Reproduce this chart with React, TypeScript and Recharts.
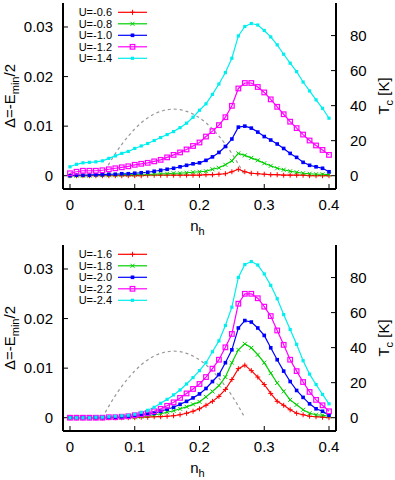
import { ComposedChart, Line, XAxis, YAxis, Legend, Label } from "recharts";

// hole doping n_h, one point every 0.01
const NH = [
  0, 0.01, 0.02, 0.03, 0.04, 0.05, 0.06, 0.07, 0.08, 0.09, 0.1, 0.11, 0.12,
  0.13, 0.14, 0.15, 0.16, 0.17, 0.18, 0.19, 0.2, 0.21, 0.22, 0.23, 0.24, 0.25,
  0.26, 0.27, 0.28, 0.29, 0.3, 0.31, 0.32, 0.33, 0.34, 0.35, 0.36, 0.37, 0.38,
  0.39, 0.4,
];

const TOP_LABELS = ["U=-0.6", "U=-0.8", "U=-1.0", "U=-1.2", "U=-1.4"];
const BOTTOM_LABELS = ["U=-1.6", "U=-1.8", "U=-2.0", "U=-2.2", "U=-2.4"];

// gap Δ for the upper panel
const GAP_U06 = [
  0, 0, 0, 0, 0, 0, 0, 0, 0, 0, 0, 0, 0.0001, 0.0001, 0.0001, 0.0001, 0.0001,
  0.0001, 0.0001, 0.0001, 0.0001, 0.0002, 0.0002, 0.0003, 0.0004, 0.0008,
  0.0013, 0.0008, 0.0005, 0.0004, 0.0003, 0.0002, 0.0002, 0.0001, 0.0001,
  0.0001, 0.0001, 0, 0, 0, 0,
];
const GAP_U08 = [
  0, 0, 0, 0, 0.0001, 0.0001, 0.0001, 0.0001, 0.0002, 0.0002, 0.0002, 0.0003,
  0.0003, 0.0003, 0.0004, 0.0004, 0.0005, 0.0005, 0.0006, 0.0007, 0.0008,
  0.0009, 0.0013, 0.0016, 0.0022, 0.003, 0.0045, 0.0041, 0.0036, 0.0031,
  0.0025, 0.002, 0.0015, 0.0012, 0.0009, 0.0007, 0.0005, 0.0004, 0.0003,
  0.0003, 0.0002,
];
const GAP_U10 = [
  0, 0.0001, 0.0001, 0.0001, 0.0002, 0.0002, 0.0003, 0.0003, 0.0004, 0.0004,
  0.0005, 0.0006, 0.0007, 0.0009, 0.0011, 0.0013, 0.0015, 0.0018, 0.0021,
  0.0024, 0.0026, 0.0031, 0.0038, 0.0047, 0.0059, 0.0074, 0.0098, 0.01,
  0.0096, 0.0088, 0.0079, 0.0072, 0.0064, 0.0055, 0.0045, 0.0037, 0.0027,
  0.0021, 0.0018, 0.0015, 0.0008,
];
const GAP_U12 = [
  0.0005, 0.0008, 0.001, 0.001, 0.001, 0.0011, 0.0013, 0.0015, 0.0017, 0.0019,
  0.0022, 0.0024, 0.0026, 0.0029, 0.0032, 0.0037, 0.0042, 0.0047, 0.0053,
  0.006, 0.0067, 0.0079, 0.009, 0.0102, 0.0118, 0.0141, 0.0176, 0.0187,
  0.0187, 0.0179, 0.0168, 0.0154, 0.0139, 0.0124, 0.0109, 0.0096, 0.0083,
  0.0071, 0.0061, 0.0052, 0.0042,
];
const GAP_U14 = [
  0.0018, 0.0023, 0.0026, 0.0027, 0.0028, 0.003, 0.0035, 0.004, 0.0045,
  0.0049, 0.0055, 0.006, 0.0065, 0.0071, 0.0077, 0.0083, 0.0089, 0.0097,
  0.0106, 0.0118, 0.0132, 0.0145, 0.0164, 0.0185, 0.0208, 0.0237, 0.0282,
  0.0301, 0.0307, 0.0304, 0.0293, 0.028, 0.0264, 0.0245, 0.0227, 0.021,
  0.0189, 0.0171, 0.0153, 0.0136, 0.0116,
];

// gap Δ for the lower panel
const GAP_U16 = [
  0, 0, 0, 0, 0, 0, 0, 0, 0, 0, 0, 0.0001, 0.0001, 0.0002, 0.0002, 0.0003,
  0.0004, 0.0006, 0.0009, 0.0013, 0.0018, 0.0025, 0.0033, 0.0043, 0.0057,
  0.0077, 0.0099, 0.0106, 0.0095, 0.0082, 0.0067, 0.0049, 0.0033, 0.0025,
  0.0016, 0.0009, 0.0006, 0.0003, 0.0002, 0.0001, 0,
];
const GAP_U18 = [
  0, 0, 0, 0, 0, 0, 0, 0, 0, 0.0001, 0.0001, 0.0002, 0.0004, 0.0006, 0.0008,
  0.0011, 0.0014, 0.0018, 0.0022, 0.0027, 0.0032, 0.0042, 0.0053, 0.0065,
  0.0082, 0.0111, 0.0137, 0.0149, 0.0141, 0.0127, 0.0111, 0.009, 0.007,
  0.0053, 0.0036, 0.0026, 0.0016, 0.0009, 0.0006, 0.0005, 0.0003,
];
const GAP_U20 = [
  0, 0, 0, 0, 0, 0, 0, 0.0001, 0.0001, 0.0002, 0.0003, 0.0005, 0.0007, 0.0009,
  0.0013, 0.0017, 0.0021, 0.0027, 0.0033, 0.004, 0.0048, 0.0059, 0.0073,
  0.0087, 0.0111, 0.0137, 0.0181, 0.0196, 0.0193, 0.0181, 0.0166, 0.0141,
  0.0117, 0.0094, 0.0073, 0.0055, 0.0041, 0.0028, 0.0018, 0.0013, 0.0005,
];
const GAP_U22 = [
  0, 0, 0, 0, 0, 0, 0.0001, 0.0001, 0.0002, 0.0003, 0.0005, 0.0007, 0.0009,
  0.0013, 0.0018, 0.0024, 0.0031, 0.004, 0.0049, 0.0058, 0.0068, 0.0082,
  0.0099, 0.0117, 0.0142, 0.0169, 0.023, 0.025, 0.025, 0.0241, 0.0224, 0.0205,
  0.0176, 0.0147, 0.0117, 0.0094, 0.0072, 0.0052, 0.0036, 0.0025, 0.0013,
];
const GAP_U24 = [
  0, 0, 0, 0, 0.0001, 0.0001, 0.0002, 0.0003, 0.0004, 0.0005, 0.0007, 0.0011,
  0.0015, 0.0021, 0.0029, 0.0037, 0.0046, 0.0056, 0.0068, 0.0081, 0.0095,
  0.0111, 0.0133, 0.0155, 0.0186, 0.0223, 0.0283, 0.0309, 0.0315, 0.0308,
  0.029, 0.0267, 0.024, 0.0208, 0.0178, 0.0148, 0.0115, 0.0088, 0.0067,
  0.0047, 0.0028,
];

// experimental Tc dome [K], right axis
const DOME_TC = [
  null, null, null, null, null, 0, 6.6, 12.6, 17.9, 22.6, 26.7, 30.2, 33.0,
  35.2, 36.7, 37.7, 38.0, 37.7, 36.7, 35.2, 33.0, 30.2, 26.7, 22.6, 17.9, 12.6,
  6.6, 0, null, null, null, null, null, null, null, null, null, null, null,
  null, null,
];

const X_TICKS = [0, 0.1, 0.2, 0.3, 0.4];
const GAP_TICKS = [0, 0.01, 0.02, 0.03];
const TC_TICKS = [0, 20, 40, 60, 80];

const COLORS = ["#ff0000", "#00d000", "#0000ff", "#ff00ff", "#00eeee"];
const MARKERS = ["plus", "cross", "square", "open", "small"];
const FONT = "'Liberation Sans', Arial, sans-serif";

function Marker({ kind, cx, cy, color }: any) {
  if (cx == null || cy == null) return null;
  if (kind === "plus")
    return (
      <g stroke={color} strokeWidth={1}>
        <line x1={cx - 2.5} y1={cy} x2={cx + 2.5} y2={cy} />
        <line x1={cx} y1={cy - 2.5} x2={cx} y2={cy + 2.5} />
      </g>
    );
  if (kind === "cross")
    return (
      <g stroke={color} strokeWidth={1}>
        <line x1={cx - 2} y1={cy - 2} x2={cx + 2} y2={cy + 2} />
        <line x1={cx - 2} y1={cy + 2} x2={cx + 2} y2={cy - 2} />
      </g>
    );
  if (kind === "open")
    return (
      <rect x={cx - 2.3} y={cy - 2.3} width={4.6} height={4.6} fill="none" stroke={color} strokeWidth={1.2} />
    );
  const s = kind === "small" ? 3.2 : 3.6;
  return <rect x={cx - s / 2} y={cy - s / 2} width={s} height={s} fill={color} />;
}

function LegendBox({ labels }: { labels: string[] }) {
  return (
    <svg width={90} height={62} style={{ display: "block" }}>
      {labels.map((lab, i) => {
        const y = 8.3 + i * 11.5;
        return (
          <g key={lab}>
            <text x={38} y={y + 4} textAnchor="end" fontSize={11} fontFamily={FONT} fill="#000">
              {lab}
            </text>
            <line x1={44} y1={y} x2={73} y2={y} stroke={COLORS[i]} strokeWidth={1.2} />
            <Marker kind={MARKERS[i]} cx={58.5} cy={y} color={COLORS[i]} />
          </g>
        );
      })}
    </svg>
  );
}

const GapLabel = ({ viewBox }: any) => {
  const x = viewBox.x + 15;
  const y = viewBox.y + viewBox.height / 2;
  return (
    <text x={x} y={y} transform={`rotate(-90 ${x} ${y})`} textAnchor="middle" fontSize={15} fontFamily={FONT} fill="#000">
      Δ=-E<tspan dy={4} fontSize={11}>min</tspan>
      <tspan dy={-4}>/2</tspan>
    </text>
  );
};

const TcLabel = ({ viewBox }: any) => {
  const x = viewBox.x + 53;
  const y = viewBox.y + viewBox.height / 2;
  return (
    <text x={x} y={y} transform={`rotate(-90 ${x} ${y})`} textAnchor="middle" fontSize={15} fontFamily={FONT} fill="#000">
      T<tspan dy={4} fontSize={11}>c</tspan>
      <tspan dy={-4}> [K]</tspan>
    </text>
  );
};

const NhLabel = ({ viewBox }: any) => {
  const x = viewBox.x + viewBox.width / 2 - 2;
  const y = viewBox.y + 42;
  return (
    <text x={x} y={y} textAnchor="middle" fontSize={15} fontFamily={FONT} fill="#000">
      n<tspan dy={4} fontSize={11}>h</tspan>
    </text>
  );
};

const frame = { stroke: "#000", strokeWidth: 2 };
const tickLine = { stroke: "#000", strokeWidth: 1 };
const tickText = { fill: "#000", fontSize: 15, fontFamily: FONT };

function Panel({ series, labels }: { series: number[][]; labels: string[] }) {
  const data = NH.map((nh, i) => {
    const row: any = { nh, dome: DOME_TC[i] };
    series.forEach((s, k) => (row["s" + k] = s[i]));
    return row;
  });

  return (
    <ComposedChart width={395} height={240} data={data} margin={{ top: 3, right: 0, bottom: 0, left: 0 }}>
      <XAxis
        xAxisId="b"
        dataKey="nh"
        type="number"
        domain={[-0.0108, 0.4108]}
        ticks={X_TICKS}
        allowDataOverflow
        height={51}
        tickSize={-5}
        tickMargin={15}
        axisLine={frame}
        tickLine={tickLine}
        tick={tickText}
      >
        <Label content={NhLabel} />
      </XAxis>
      <XAxis
        xAxisId="t"
        orientation="top"
        dataKey="nh"
        type="number"
        domain={[-0.0108, 0.4108]}
        ticks={X_TICKS}
        allowDataOverflow
        height={0}
        tickSize={-5}
        tickFormatter={() => ""}
        axisLine={frame}
        tickLine={tickLine}
      />
      <YAxis
        yAxisId="gap"
        type="number"
        domain={[-0.00268, 0.03484]}
        ticks={GAP_TICKS}
        allowDataOverflow
        width={63}
        tickSize={-5}
        tickMargin={15}
        tickFormatter={(v: number) => (v === 0 ? "0" : v.toFixed(2))}
        axisLine={frame}
        tickLine={tickLine}
        tick={tickText}
      >
        <Label content={GapLabel} />
      </YAxis>
      <YAxis
        yAxisId="tc"
        orientation="right"
        type="number"
        domain={[-7.6, 98.6]}
        ticks={TC_TICKS}
        allowDataOverflow
        width={59}
        tickSize={-5}
        tickMargin={19}
        axisLine={frame}
        tickLine={tickLine}
        tick={tickText}
      >
        <Label content={TcLabel} />
      </YAxis>
      <Legend
        layout="vertical"
        align="center"
        verticalAlign="middle"
        wrapperStyle={{ top: 4, left: 74, width: 90, height: 62 }}
        content={() => <LegendBox labels={labels} />}
      />
      <Line
        xAxisId="b"
        yAxisId="tc"
        dataKey="dome"
        type="monotone"
        stroke="#999"
        strokeWidth={1.2}
        strokeDasharray="3 3"
        dot={false}
        isAnimationActive={false}
        legendType="none"
      />
      {series.map((_, k) => (
        <Line
          key={k}
          xAxisId="b"
          yAxisId="gap"
          dataKey={"s" + k}
          type="linear"
          stroke={COLORS[k]}
          strokeWidth={1.2}
          dot={(p: any) => <Marker key={p.index} kind={MARKERS[k]} cx={p.cx} cy={p.cy} color={COLORS[k]} />}
          activeDot={false}
          isAnimationActive={false}
        />
      ))}
    </ComposedChart>
  );
}

export default function App() {
  return (
    <div style={{ position: "absolute", left: 0, top: 0, width: 395, height: 480, background: "#fff", fontFamily: FONT }}>
      <div style={{ position: "absolute", left: 0, top: 0 }}>
        <Panel series={[GAP_U06, GAP_U08, GAP_U10, GAP_U12, GAP_U14]} labels={TOP_LABELS} />
      </div>
      <div style={{ position: "absolute", left: 0, top: 242 }}>
        <Panel series={[GAP_U16, GAP_U18, GAP_U20, GAP_U22, GAP_U24]} labels={BOTTOM_LABELS} />
      </div>
    </div>
  );
}
